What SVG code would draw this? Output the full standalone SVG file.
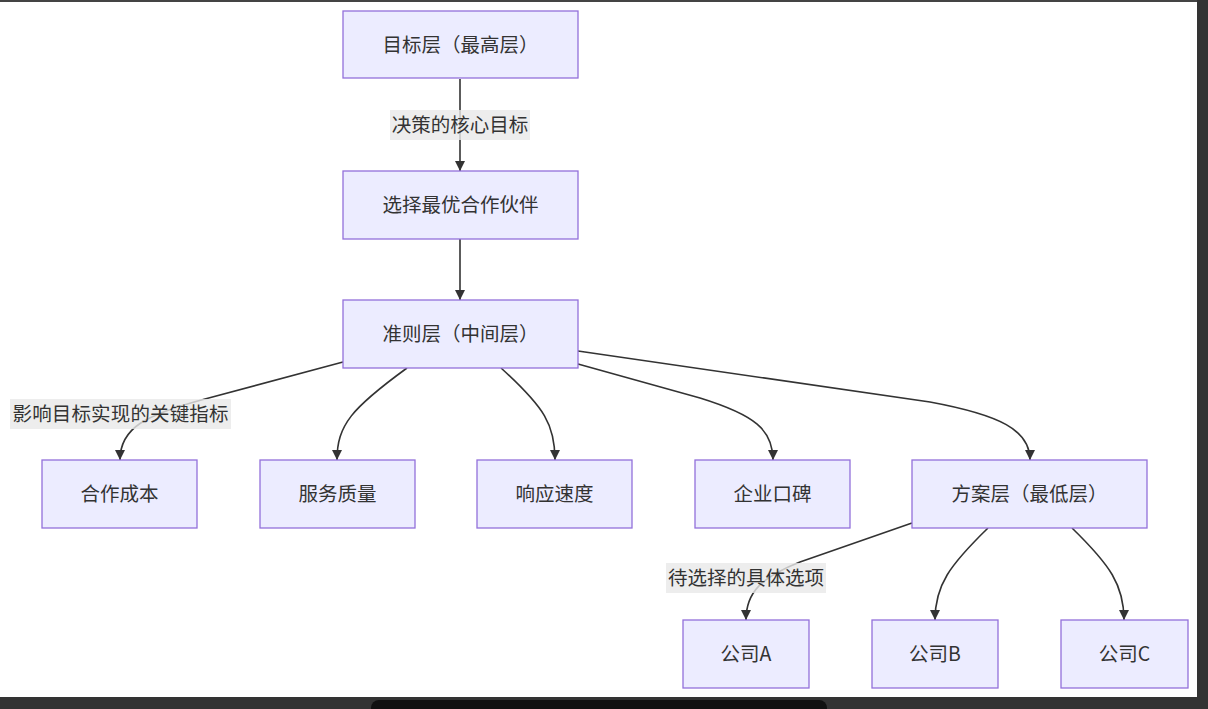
<svg xmlns="http://www.w3.org/2000/svg" width="1208" height="709" viewBox="0 0 1208 709">
<defs>
<style>
.node rect{fill:#ECECFF;stroke:#9370DB;stroke-width:1.3}
.node text,.lbl text{font-family:"Noto Sans CJK SC","Noto Sans",sans-serif;font-size:19.5px;fill:#333;text-anchor:middle;dominant-baseline:central}
.edge{fill:none;stroke:#333;stroke-width:1.6}
.lbl rect{fill:#E8E8E8;fill-opacity:0.8}
</style>
<marker id="arr" viewBox="0 0 10 10" refX="10" refY="5" markerWidth="10" markerHeight="10" markerUnits="userSpaceOnUse" orient="auto">
<path d="M0,0 L10,5 L0,10 z" fill="#333"/>
</marker>
</defs>
<rect width="1208" height="709" fill="#fff"/>
<g id="connectors">
<path class="edge" d="M460,79 L460,171" marker-end="url(#arr)"/>
<path class="edge" d="M460,239 L460,300" marker-end="url(#arr)"/>
<path class="edge" d="M343,362 L205,399 C145,415 120,428 120,460" marker-end="url(#arr)"/>
<path class="edge" d="M407,368 C352,408 337,425 337,460" marker-end="url(#arr)"/>
<path class="edge" d="M501,368 C545,408 555,425 555,460" marker-end="url(#arr)"/>
<path class="edge" d="M578,364 L700,398 C755,415 773,430 773,460" marker-end="url(#arr)"/>
<path class="edge" d="M578,351 L930,402 C1000,415 1030,430 1030,460" marker-end="url(#arr)"/>
<path class="edge" d="M912,523 L800,562 C762,577 746,592 746,620" marker-end="url(#arr)"/>
<path class="edge" d="M988,528 C950,565 935,585 935,620" marker-end="url(#arr)"/>
<path class="edge" d="M1072,528 C1110,565 1124,585 1124,620" marker-end="url(#arr)"/>
</g>
<g class="lbl" id="label1"><rect x="390" y="110" width="140" height="30"/><text x="460" y="123.5">决策的核心目标</text></g>
<g class="lbl" id="label2"><rect x="10" y="399" width="221" height="30"/><text x="120.5" y="412.5" textLength="216">影响目标实现的关键指标</text></g>
<g class="lbl" id="label3"><rect x="666" y="563" width="160" height="30"/><text x="746" y="576.5">待选择的具体选项</text></g>
<g class="node" id="goal"><rect x="343" y="11" width="235" height="67"/><text x="460.5" y="43">目标层（最高层）</text></g>
<g class="node" id="target"><rect x="343" y="171" width="235" height="68"/><text x="460.5" y="203.5">选择最优合作伙伴</text></g>
<g class="node" id="criteria"><rect x="343" y="300" width="235" height="68"/><text x="460.5" y="332.5">准则层（中间层）</text></g>
<g class="node" id="cost"><rect x="42" y="460" width="155" height="68"/><text x="119.5" y="492.5">合作成本</text></g>
<g class="node" id="service"><rect x="260" y="460" width="155" height="68"/><text x="337.5" y="492.5">服务质量</text></g>
<g class="node" id="speed"><rect x="477" y="460" width="155" height="68"/><text x="554.5" y="492.5">响应速度</text></g>
<g class="node" id="reputation"><rect x="695" y="460" width="155" height="68"/><text x="772.5" y="492.5">企业口碑</text></g>
<g class="node" id="plan"><rect x="912" y="460" width="235" height="68"/><text x="1029.5" y="492.5">方案层（最低层）</text></g>
<g class="node" id="companyA"><rect x="683" y="620" width="126" height="68"/><text x="746" y="652.5">公司A</text></g>
<g class="node" id="companyB"><rect x="872" y="620" width="126" height="68"/><text x="935" y="652.5">公司B</text></g>
<g class="node" id="companyC"><rect x="1061" y="620" width="127" height="68"/><text x="1124.5" y="652.5">公司C</text></g>
<g id="frame">
<rect x="0" y="0" width="1208" height="2" fill="#444"/>
<rect x="1197" y="0" width="11" height="709" fill="#333"/>
<rect x="0" y="697" width="1208" height="12" fill="#333"/>
<rect x="371" y="700" width="456" height="16" rx="8" fill="#111"/>
</g>
</svg>
